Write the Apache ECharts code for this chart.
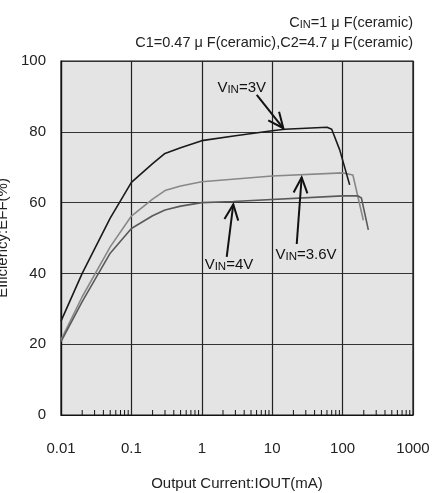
<!DOCTYPE html>
<html>
<head>
<meta charset="utf-8">
<script src="https://cdn.jsdelivr.net/npm/echarts@6/dist/echarts.min.js"></script>
<style>html,body{margin:0;padding:0;background:#fff;}#c{width:440px;height:493px;}</style>
</head>
<body>
<div id="c"></div>
<script>
// ---- data ----
const xTickLabels = ['0.01', '0.1', '1', '10', '100', '1000'];
const yTicks = [0, 20, 40, 60, 80, 100];

const vin3V = [[0.01,26.5],[0.02,40],[0.05,55.6],[0.1,65.7],[0.2,71],[0.3,73.9],[0.5,75.5],[1,77.5],[3,78.9],[10,80.3],[15,80.7],[60,81.3],[70,80.7],[91,74.9],[126,65]];
const vin36V = [[0.01,21.2],[0.02,33.4],[0.05,47.5],[0.1,56.2],[0.2,61],[0.3,63.4],[0.5,64.7],[1,65.9],[10,67.5],[100,68.4],[140,67.8],[197,55]];
const vin4V = [[0.01,20.7],[0.02,32],[0.05,45.7],[0.1,52.7],[0.2,56.3],[0.3,57.9],[0.5,59],[1,60],[2.8,60.3],[100,61.9],[165,61.9],[185,61.3],[232,52.3]];

// arrows: [xFrom, yFrom, xTo(tip), yTo(tip)]
const arrows = [[6.03,90.4,14.4,81.0],[2.26,44.7,2.80,59.5],[22.3,48.3,26.2,67.1]];
// labels: [x, y]
const labelPos = [[3.69,92.7],[2.43,42.7],[30.2,45.5]];
const labelVals = ['=3V','=4V','=3.6V'];

const decades = [0.01, 0.1, 1, 10, 100];
const minorMultipliers = [2,3,4,5,6,7,8,9];

const minorTicks = [];
decades.forEach(d => minorMultipliers.forEach(m => minorTicks.push([d*m, 0])));

const FONT = 'Liberation Sans, Arial, sans-serif';

const chart = echarts.init(document.getElementById('c'));
chart.setOption({
  animation: false,
  backgroundColor: '#fff',
  title: {
    right: 27, top: 10, padding: 0,
    text: '{a|C}{s|IN}{a|=1 μ F(ceramic)}\n{a|C1=0.47 μ F(ceramic),C2=4.7 μ F(ceramic)}',
    textStyle: {
      fontFamily: FONT, fontWeight: 'normal', fontSize: 14.5, color: '#222', lineHeight: 20,
      rich: {
        a: {fontFamily: FONT, fontSize: 14.5, color: '#222', verticalAlign: 'bottom', lineHeight: 20, align: 'right'},
        s: {fontFamily: FONT, fontSize: 11, color: '#222', verticalAlign: 'bottom', lineHeight: 20, align: 'right'}
      }
    }
  },
  grid: {
    left: 61, right: 27, top: 61, bottom: 78,
    containLabel: false, outerBoundsMode: 'none',
    show: true, backgroundColor: '#e4e4e4', borderColor: '#111', borderWidth: 1.2
  },
  xAxis: {
    type: 'log', logBase: 10, min: 0.01, max: 1000,
    name: 'Output Current:IOUT(mA)', nameLocation: 'middle', nameGap: 61,
    nameTextStyle: {fontFamily: FONT, fontSize: 15, color: '#222'},
    axisLine: {show: true, lineStyle: {color: '#111', width: 1.2}},
    axisTick: {show: false},
    axisLabel: {
      fontFamily: FONT, fontSize: 15, color: '#222', margin: 26,
      formatter: v => {
        const i = Math.round(Math.log10(v)) + 2;
        return xTickLabels[i] !== undefined ? xTickLabels[i] : '';
      }
    },
    splitLine: {show: true, lineStyle: {color: '#222', width: 1.2}},
    minorTick: {show: false}
  },
  yAxis: {
    type: 'value', min: yTicks[0], max: yTicks[yTicks.length-1], interval: 20,
    name: 'Efficiency:EFF(%)', nameLocation: 'middle', nameGap: 51, nameRotate: 90,
    nameTextStyle: {fontFamily: FONT, fontSize: 15, color: '#222'},
    axisLine: {show: true, lineStyle: {color: '#111', width: 1.2}},
    axisTick: {show: false},
    axisLabel: {fontFamily: FONT, fontSize: 15, color: '#222', margin: 15},
    splitLine: {show: true, lineStyle: {color: '#333', width: 1.2}}
  },
  series: [
    {name: 'VIN=3V', type: 'line', data: vin3V, symbol: 'none',
     lineStyle: {color: '#1a1a1a', width: 1.6}, z: 5},
    {name: 'VIN=3.6V', type: 'line', data: vin36V, symbol: 'none',
     lineStyle: {color: '#888888', width: 1.6}, z: 4},
    {name: 'VIN=4V', type: 'line', data: vin4V, symbol: 'none',
     lineStyle: {color: '#5a5a5a', width: 1.6}, z: 4},
    {
      type: 'custom', data: minorTicks, encode: {x: 0, y: 1}, z: 6, silent: true,
      renderItem: (params, api) => {
        const p = api.coord([api.value(0), api.value(1)]);
        return {type: 'line', shape: {x1: p[0], y1: p[1], x2: p[0], y2: p[1] - 5},
                style: {stroke: '#111', lineWidth: 1}};
      }
    },
    {
      type: 'custom', data: arrows, encode: {x: [0, 2], y: [1, 3]}, z: 7, silent: true,
      renderItem: (params, api) => {
        const a = api.coord([api.value(0), api.value(1)]);
        const b = api.coord([api.value(2), api.value(3)]);
        const ang = Math.atan2(b[1] - a[1], b[0] - a[0]);
        const L = 17, h = 0.42;
        const h1 = [b[0] - L * Math.cos(ang - h), b[1] - L * Math.sin(ang - h)];
        const h2 = [b[0] - L * Math.cos(ang + h), b[1] - L * Math.sin(ang + h)];
        return {type: 'group', children: [
          {type: 'line', shape: {x1: a[0], y1: a[1], x2: b[0], y2: b[1]}, style: {stroke: '#111', lineWidth: 2}},
          {type: 'polyline', shape: {points: [h1, b, h2]}, style: {stroke: '#111', lineWidth: 2, fill: null}}
        ]};
      }
    },
    {
      type: 'custom', data: labelPos, encode: {x: 0, y: 1}, z: 8, silent: true,
      renderItem: (params, api) => {
        const p = api.coord([api.value(0), api.value(1)]);
        return {type: 'text', x: p[0], y: p[1], style: {
          text: '{a|V}{s|IN}{a|' + labelVals[params.dataIndex] + '}',
          align: 'center', verticalAlign: 'middle',
          rich: {
            a: {fontFamily: FONT, fontSize: 15, fill: '#111', verticalAlign: 'bottom', lineHeight: 17},
            s: {fontFamily: FONT, fontSize: 11.5, fill: '#111', verticalAlign: 'bottom', lineHeight: 17}
          }
        }};
      }
    }
  ]
});
</script>
</body>
</html>
